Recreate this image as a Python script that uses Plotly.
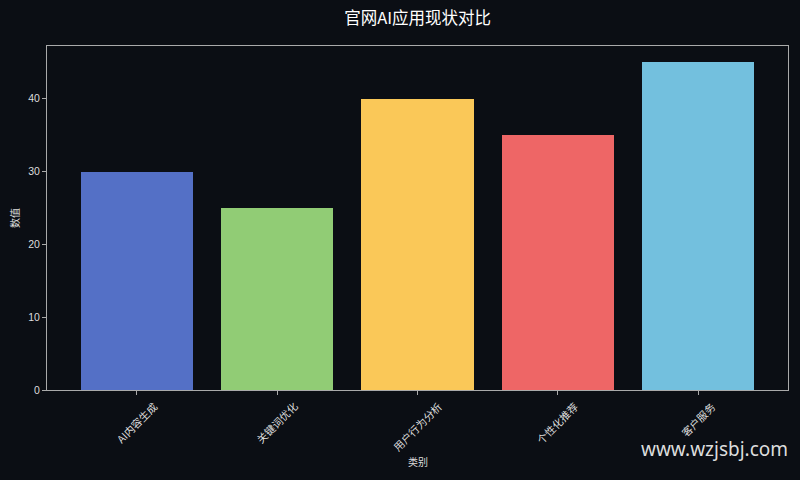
import plotly.graph_objects as go

categories = ["AI内容生成", "关键词优化", "用户行为分析", "个性化推荐", "客户服务"]
values = [30, 25, 40, 35, 45]
colors = ["#5470c6", "#91cc75", "#fac858", "#ee6666", "#73c0de"]
y_ticks = [0, 10, 20, 30, 40]

bg = "#0b0e14"
font = "Noto Sans CJK SC"
num_font = "Liberation Sans, Noto Sans CJK SC"

fig = go.Figure()
fig.add_trace(go.Bar(
    x=list(range(len(categories))), y=values, width=0.8,
    marker=dict(color=colors, line=dict(width=0)),
    hoverinfo="y",
))

fig.update_layout(
    width=800, height=480,
    paper_bgcolor=bg, plot_bgcolor=bg,
    margin=dict(l=47, r=12, t=46, b=90),
    font=dict(family=font, color="#dddddd", size=10),
    title=dict(text="官网AI应用现状对比", x=0.522, xanchor="center", y=0.962, yanchor="middle",
               font=dict(size=16.5, color="#ffffff", family=font)),
    showlegend=False,
    bargap=0,
)
fig.update_xaxes(
    range=[-0.64, 4.64],
    tickmode="array", tickvals=list(range(len(categories))), showticklabels=False,
    ticks="outside", ticklen=4, tickcolor="#aaaaaa",
    showline=True, linecolor="#aaaaaa", linewidth=1, mirror=True,
    showgrid=False, zeroline=False,
)
fig.update_yaxes(
    range=[0, 47.25],
    tickmode="array", tickvals=y_ticks,
    ticks="outside", ticklen=4, tickcolor="#aaaaaa",
    showline=True, linecolor="#aaaaaa", linewidth=1, mirror=True,
    showgrid=False, zeroline=False,
    title=dict(text="数值", font=dict(size=10, color="#dddddd"), standoff=6),
    tickfont=dict(size=10.5, color="#dddddd", family=num_font),
)
for i, c in enumerate(categories):
    fig.add_annotation(
        text=c, x=i, xref="x", y=0, yref="paper", yshift=-6,
        xanchor="center", yanchor="top", textangle=-45, showarrow=False,
        font=dict(size=10.5, color="#dddddd", family=font),
    )
fig.add_annotation(
    text="类别", xref="paper", yref="paper", x=0.5, y=-0.209, xanchor="center", yanchor="middle",
    showarrow=False, font=dict(size=10, color="#dddddd", family=font),
)
fig.add_annotation(
    text="www.wzjsbj.com", xref="paper", yref="paper",
    x=1.003, y=-0.171, xanchor="right", yanchor="middle", showarrow=False,
    font=dict(size=19, color="#dddddd", family="Noto Sans"),
)
fig.write_html("out.html", config={"displayModeBar": False},
               post_script="document.body.style.margin='0';document.body.style.background='#0b0e14';")
